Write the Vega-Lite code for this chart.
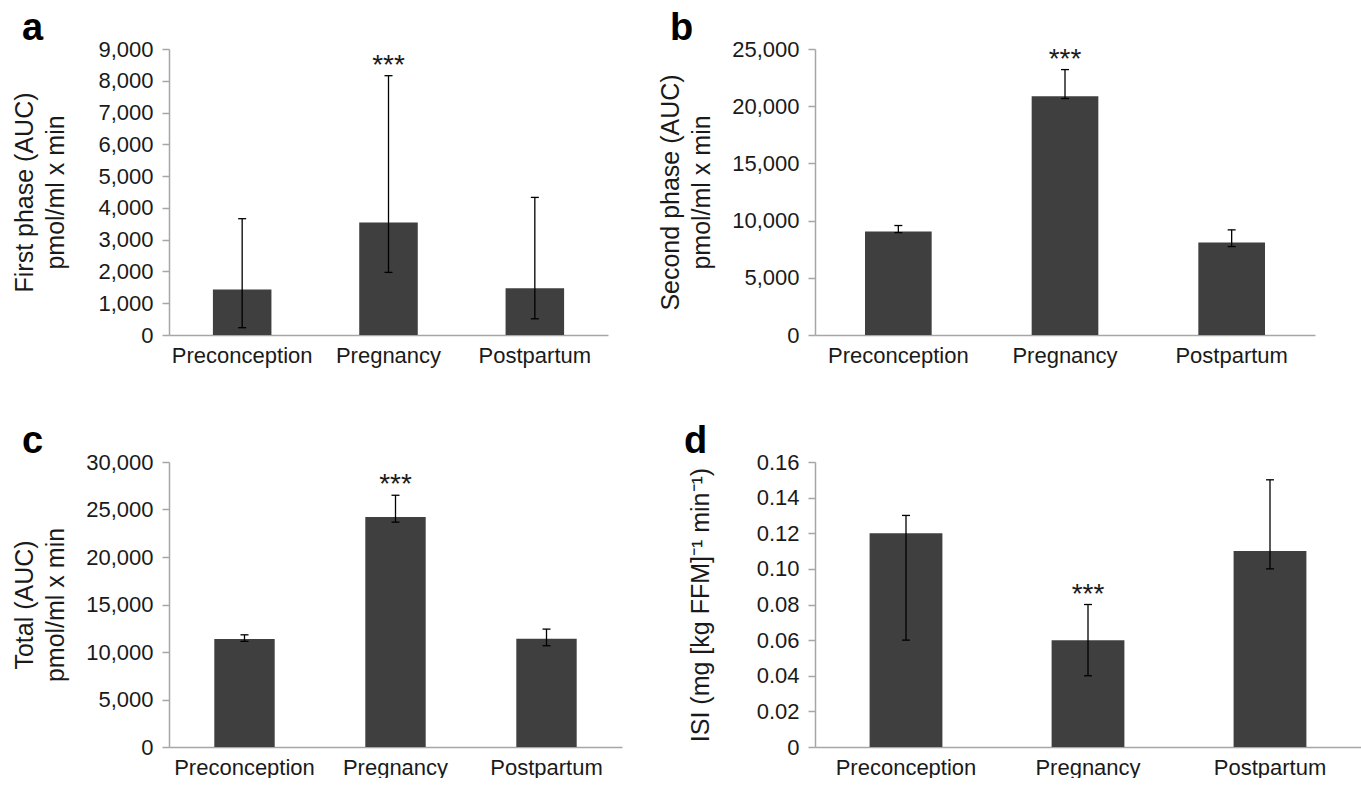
{
  "$schema": "https://vega.github.io/schema/vega-lite/v6.json",
  "padding": {"left": 12, "top": 10, "right": 0, "bottom": 0},
  "background": "white",
  "config": {
    "font": "Liberation Sans",
    "view": {"stroke": null},
    "axis": {"grid": false, "domainColor": "#a6a6a6", "domainWidth": 1.5, "tickColor": "#a6a6a6", "tickWidth": 1.5, "labelColor": "#1a1a1a", "labelFontSize": 22, "titleFontSize": 25, "titleFontWeight": "normal", "titleColor": "#1a1a1a", "labelFont": "Liberation Sans", "titleFont": "Liberation Sans", "labelOverlap": false},
    "axisX": {"ticks": false, "tickSize": 0, "labelPadding": 10, "labelAngle": 0, "title": null},
    "axisY": {"tickSize": 7, "labelPadding": 9, "titleLineHeight": 31, "titleBaseline": "bottom", "titleAngle": -90, "titleAlign": "center"},
    "title": {"anchor": "start", "frame": "group", "fontSize": 38, "fontWeight": "bold", "color": "#000000", "baseline": "alphabetic", "offset": 0, "font": "Liberation Sans", "dy": 14},
    "bar": {"color": "#3f3f3f"}
  },
  "datasets": {
    "d": [
      {"panel": "a", "period": "Preconception", "value": 1430, "lo": 230, "hi": 3660, "sig": ""},
      {"panel": "a", "period": "Pregnancy", "value": 3540, "lo": 1970, "hi": 8160, "sig": "***"},
      {"panel": "a", "period": "Postpartum", "value": 1470, "lo": 510, "hi": 4330, "sig": ""},
      {"panel": "b", "period": "Preconception", "value": 9050, "lo": 8950, "hi": 9570, "sig": ""},
      {"panel": "b", "period": "Pregnancy", "value": 20880, "lo": 20670, "hi": 23200, "sig": "***"},
      {"panel": "b", "period": "Postpartum", "value": 8080, "lo": 7730, "hi": 9190, "sig": ""},
      {"panel": "c", "period": "Preconception", "value": 11360, "lo": 11120, "hi": 11810, "sig": ""},
      {"panel": "c", "period": "Pregnancy", "value": 24200, "lo": 23670, "hi": 26500, "sig": "***"},
      {"panel": "c", "period": "Postpartum", "value": 11400, "lo": 10660, "hi": 12410, "sig": ""},
      {"panel": "d", "period": "Preconception", "value": 0.12, "lo": 0.06, "hi": 0.13, "sig": ""},
      {"panel": "d", "period": "Pregnancy", "value": 0.06, "lo": 0.04, "hi": 0.08, "sig": "***"},
      {"panel": "d", "period": "Postpartum", "value": 0.11, "lo": 0.10, "hi": 0.15, "sig": ""}
    ]
  },
  "spacing": 57,
  "vconcat": [
    {
      "bounds": "flush",
      "spacing": 207,
      "hconcat": [
        {
          "width": 439, "height": 286,
          "title": {"text": "a", "dx": -147},
          "data": {"name": "d"},
          "transform": [{"filter": "datum.panel === 'a'"}],
          "encoding": {"x": {"field": "period", "type": "nominal", "sort": null, "scale": {"paddingInner": 0.6, "paddingOuter": 0.3}}},
          "layer": [
            {"mark": {"type": "bar"}, "encoding": {"y": {"field": "value", "type": "quantitative", "scale": {"domain": [0, 9000], "nice": false}, "axis": {"title": ["First phase (AUC)", "pmol/ml x min"], "titleX": -132, "values": [0, 1000, 2000, 3000, 4000, 5000, 6000, 7000, 8000, 9000], "format": ",.0f", "labelOverlap": false, "tickCount": 10}}}},
            {"mark": {"type": "rule", "color": "#000000", "strokeWidth": 1.3}, "encoding": {"y": {"field": "lo", "type": "quantitative"}, "y2": {"field": "hi"}}},
            {"mark": {"type": "tick", "color": "#000000", "thickness": 1.3, "size": 8, "opacity": 1}, "encoding": {"y": {"field": "hi", "type": "quantitative"}}},
            {"mark": {"type": "tick", "color": "#000000", "thickness": 1.3, "size": 8, "opacity": 1}, "encoding": {"y": {"field": "lo", "type": "quantitative"}}},
            {"mark": {"type": "text", "fontSize": 28, "baseline": "alphabetic", "dy": -2, "color": "#1a1a1a"}, "encoding": {"y": {"field": "hi", "type": "quantitative"}, "text": {"field": "sig"}}}
          ]
        },
        {
          "width": 500, "height": 286,
          "title": {"text": "b", "dx": -145},
          "data": {"name": "d"},
          "transform": [{"filter": "datum.panel === 'b'"}],
          "encoding": {"x": {"field": "period", "type": "nominal", "sort": null, "scale": {"paddingInner": 0.6, "paddingOuter": 0.3}}},
          "layer": [
            {"mark": {"type": "bar"}, "encoding": {"y": {"field": "value", "type": "quantitative", "scale": {"domain": [0, 25000], "nice": false}, "axis": {"title": ["Second phase (AUC)", "pmol/ml x min"], "titleX": -132, "values": [0, 5000, 10000, 15000, 20000, 25000], "format": ",.0f", "labelOverlap": false, "tickCount": 6}}}},
            {"mark": {"type": "rule", "color": "#000000", "strokeWidth": 1.3}, "encoding": {"y": {"field": "lo", "type": "quantitative"}, "y2": {"field": "hi"}}},
            {"mark": {"type": "tick", "color": "#000000", "thickness": 1.3, "size": 8, "opacity": 1}, "encoding": {"y": {"field": "hi", "type": "quantitative"}}},
            {"mark": {"type": "tick", "color": "#000000", "thickness": 1.3, "size": 8, "opacity": 1}, "encoding": {"y": {"field": "lo", "type": "quantitative"}}},
            {"mark": {"type": "text", "fontSize": 28, "baseline": "alphabetic", "dy": -2, "color": "#1a1a1a"}, "encoding": {"y": {"field": "hi", "type": "quantitative"}, "text": {"field": "sig"}}}
          ]
        }
      ]
    },
    {
      "bounds": "flush",
      "spacing": 193,
      "hconcat": [
        {
          "width": 453, "height": 285,
          "title": {"text": "c", "dx": -147},
          "data": {"name": "d"},
          "transform": [{"filter": "datum.panel === 'c'"}],
          "encoding": {"x": {"field": "period", "type": "nominal", "sort": null, "scale": {"paddingInner": 0.6, "paddingOuter": 0.3}}},
          "layer": [
            {"mark": {"type": "bar"}, "encoding": {"y": {"field": "value", "type": "quantitative", "scale": {"domain": [0, 30000], "nice": false}, "axis": {"title": ["Total (AUC)", "pmol/ml x min"], "titleX": -132, "values": [0, 5000, 10000, 15000, 20000, 25000, 30000], "format": ",.0f", "labelOverlap": false, "tickCount": 7}}}},
            {"mark": {"type": "rule", "color": "#000000", "strokeWidth": 1.3}, "encoding": {"y": {"field": "lo", "type": "quantitative"}, "y2": {"field": "hi"}}},
            {"mark": {"type": "tick", "color": "#000000", "thickness": 1.3, "size": 8, "opacity": 1}, "encoding": {"y": {"field": "hi", "type": "quantitative"}}},
            {"mark": {"type": "tick", "color": "#000000", "thickness": 1.3, "size": 8, "opacity": 1}, "encoding": {"y": {"field": "lo", "type": "quantitative"}}},
            {"mark": {"type": "text", "fontSize": 28, "baseline": "alphabetic", "dy": -2, "color": "#1a1a1a"}, "encoding": {"y": {"field": "hi", "type": "quantitative"}, "text": {"field": "sig"}}}
          ]
        },
        {
          "width": 546, "height": 285,
          "title": {"text": "d", "dx": -131},
          "data": {"name": "d"},
          "transform": [{"filter": "datum.panel === 'd'"}],
          "encoding": {"x": {"field": "period", "type": "nominal", "sort": null, "scale": {"paddingInner": 0.6, "paddingOuter": 0.3}}},
          "layer": [
            {"mark": {"type": "bar"}, "encoding": {"y": {"field": "value", "type": "quantitative", "scale": {"domain": [0, 0.16], "nice": false}, "axis": {"title": "ISI (mg [kg FFM]⁻¹ min⁻¹)", "titleX": -102, "values": [0, 0.02, 0.04, 0.06, 0.08, 0.1, 0.12, 0.14, 0.16], "labelExpr": "datum.value === 0 ? '0' : format(datum.value, '.2f')", "labelOverlap": false, "tickCount": 9}}}},
            {"mark": {"type": "rule", "color": "#000000", "strokeWidth": 1.3}, "encoding": {"y": {"field": "lo", "type": "quantitative"}, "y2": {"field": "hi"}}},
            {"mark": {"type": "tick", "color": "#000000", "thickness": 1.3, "size": 8, "opacity": 1}, "encoding": {"y": {"field": "hi", "type": "quantitative"}}},
            {"mark": {"type": "tick", "color": "#000000", "thickness": 1.3, "size": 8, "opacity": 1}, "encoding": {"y": {"field": "lo", "type": "quantitative"}}},
            {"mark": {"type": "text", "fontSize": 28, "baseline": "alphabetic", "dy": -2, "color": "#1a1a1a"}, "encoding": {"y": {"field": "hi", "type": "quantitative"}, "text": {"field": "sig"}}}
          ]
        }
      ]
    }
  ]
}
